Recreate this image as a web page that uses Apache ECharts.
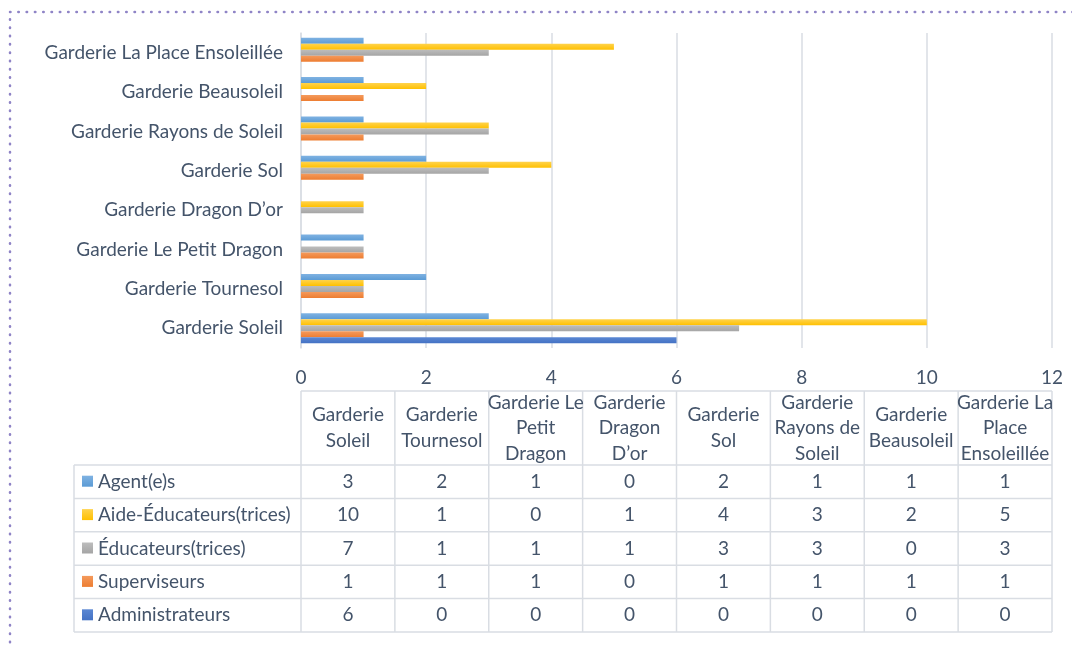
<!DOCTYPE html>
<html>
<head>
<meta charset="utf-8" />
<title>Personnel des garderies</title>
<style>
  html, body { margin: 0; padding: 0; background: #fff; }
  #main { width: 1072px; height: 645px; }
</style>
</head>
<body>
<div id="main"></div>
<script src="https://cdn.jsdelivr.net/npm/echarts@6/dist/echarts.min.js"></script>
<script>
// categories (bottom to top on the chart, left to right in the table)
var categories = ['Garderie Soleil', 'Garderie Tournesol', 'Garderie Le Petit Dragon', 'Garderie Dragon D\u2019or',
  'Garderie Sol', 'Garderie Rayons de Soleil', 'Garderie Beausoleil', 'Garderie La Place Ensoleillée'];
// wrapped headers as they appear in the data table
var tableHeaders = ['Garderie\nSoleil', 'Garderie\nTournesol', 'Garderie Le\nPetit\nDragon', 'Garderie\nDragon\nD\u2019or',
  'Garderie\nSol', 'Garderie\nRayons de\nSoleil', 'Garderie\nBeausoleil', 'Garderie La\nPlace\nEnsoleillée'];

var seriesNames = ['Agent(e)s', 'Aide-Éducateurs(trices)', 'Éducateurs(trices)', 'Superviseurs', 'Administrateurs'];
var agents = [3, 2, 1, 0, 2, 1, 1, 1];
var aides = [10, 1, 0, 1, 4, 3, 2, 5];
var educateurs = [7, 1, 1, 1, 3, 3, 0, 3];
var superviseurs = [1, 1, 1, 0, 1, 1, 1, 1];
var administrateurs = [6, 0, 0, 0, 0, 0, 0, 0];
var seriesData = [agents, aides, educateurs, superviseurs, administrateurs];

var xTicks = [0, 2, 4, 6, 8, 10, 12];

var colors = ['#5b9bd5', '#ffc000', '#a5a5a5', '#ed7d31', '#4472c4'];
var lightColors = ['#7fb2e2', '#ffd34d', '#bdbdbd', '#f49a5c', '#5a87d3'];

var textColor = '#44546a';
var gridColor = '#d9dde3';
var font = 'Lato, "Open Sans", sans-serif';
var fs = 19;

var gridLeft = 301, gridRight = 1052, gridTop = 33, gridBottom = 348;
var labelLeft = 74, headerTop = 391, headerBottom = 465, rowH = 33.4;

var myChart = echarts.init(document.getElementById('main'));

function grad(i) {
    return new echarts.graphic.LinearGradient(0, 0, 0, 1, [
        { offset: 0, color: lightColors[i] },
        { offset: 1, color: colors[i] }
    ]);
}

// data table built from the arrays
function buildTable() {
    var els = [];
    var colW = (gridRight - gridLeft) / categories.length;
    var lineStyle = { stroke: gridColor, lineWidth: 1.5 };
    var tableBottom = headerBottom + rowH * seriesNames.length;

    // vertical lines of the value columns
    for (var c = 0; c <= categories.length; c++) {
        var x = gridLeft + c * colW;
        els.push({ type: 'line', shape: { x1: x, y1: headerTop, x2: x, y2: tableBottom }, style: lineStyle });
    }
    els.push({ type: 'line', shape: { x1: labelLeft, y1: headerBottom, x2: labelLeft, y2: tableBottom }, style: lineStyle });
    els.push({ type: 'line', shape: { x1: gridLeft, y1: headerTop, x2: gridRight, y2: headerTop }, style: lineStyle });
    for (var r = 0; r <= seriesNames.length; r++) {
        var y = headerBottom + r * rowH;
        els.push({ type: 'line', shape: { x1: labelLeft, y1: y, x2: gridRight, y2: y }, style: lineStyle });
    }

    // headers
    for (var c = 0; c < categories.length; c++) {
        els.push({
            type: 'text',
            x: gridLeft + (c + 0.5) * colW,
            y: (headerTop + headerBottom) / 2,
            style: {
                text: tableHeaders[c], fill: textColor, font: fs + 'px ' + font,
                align: 'center', verticalAlign: 'middle', lineHeight: 25.5
            }
        });
    }

    // rows
    for (var r = 0; r < seriesNames.length; r++) {
        var yc = headerBottom + (r + 0.5) * rowH;
        els.push({ type: 'rect', shape: { x: 82, y: yc - 6, width: 11, height: 11 }, style: { fill: grad(r) } });
        els.push({
            type: 'text', x: 98, y: yc,
            style: { text: seriesNames[r], fill: textColor, font: fs + 'px ' + font, verticalAlign: 'middle' }
        });
        for (var c = 0; c < categories.length; c++) {
            els.push({
                type: 'text', x: gridLeft + (c + 0.5) * colW, y: yc,
                style: {
                    text: String(seriesData[r][c]), fill: textColor, font: fs + 'px ' + font,
                    align: 'center', verticalAlign: 'middle'
                }
            });
        }
    }

    // dotted frame
    els.push({
        type: 'rect', shape: { x: 10, y: 12, width: 1200, height: 800 },
        style: { fill: null, stroke: '#8f84c6', lineWidth: 2.5, lineDash: [0.5, 7.8], lineCap: 'round' },
        silent: true
    });
    return els;
}

var option = {
    backgroundColor: '#fff',
    animation: false,
    textStyle: { fontFamily: font },
    grid: { left: gridLeft, right: 1072 - gridRight, top: gridTop, bottom: 645 - gridBottom, containLabel: false },
    xAxis: {
        type: 'value',
        min: xTicks[0],
        max: xTicks[xTicks.length - 1],
        interval: 2,
        axisLine: { show: false },
        axisTick: { show: false },
        axisLabel: { color: textColor, fontSize: fs, margin: 20 },
        splitLine: { show: true, lineStyle: { color: gridColor, width: 1.5 } }
    },
    yAxis: {
        type: 'category',
        data: categories,
        axisLine: { show: true, lineStyle: { color: gridColor, width: 1.5 } },
        axisTick: { show: false },
        axisLabel: { color: textColor, fontSize: fs, margin: 18 }
    },
    series: seriesNames.map(function (name, i) {
        return {
            name: name,
            type: 'bar',
            data: seriesData[i],
            barWidth: 6,
            barGap: '0%',
            itemStyle: { color: grad(i) }
        };
    }),
    graphic: buildTable()
};
myChart.setOption(option);
</script>
</body>
</html>
